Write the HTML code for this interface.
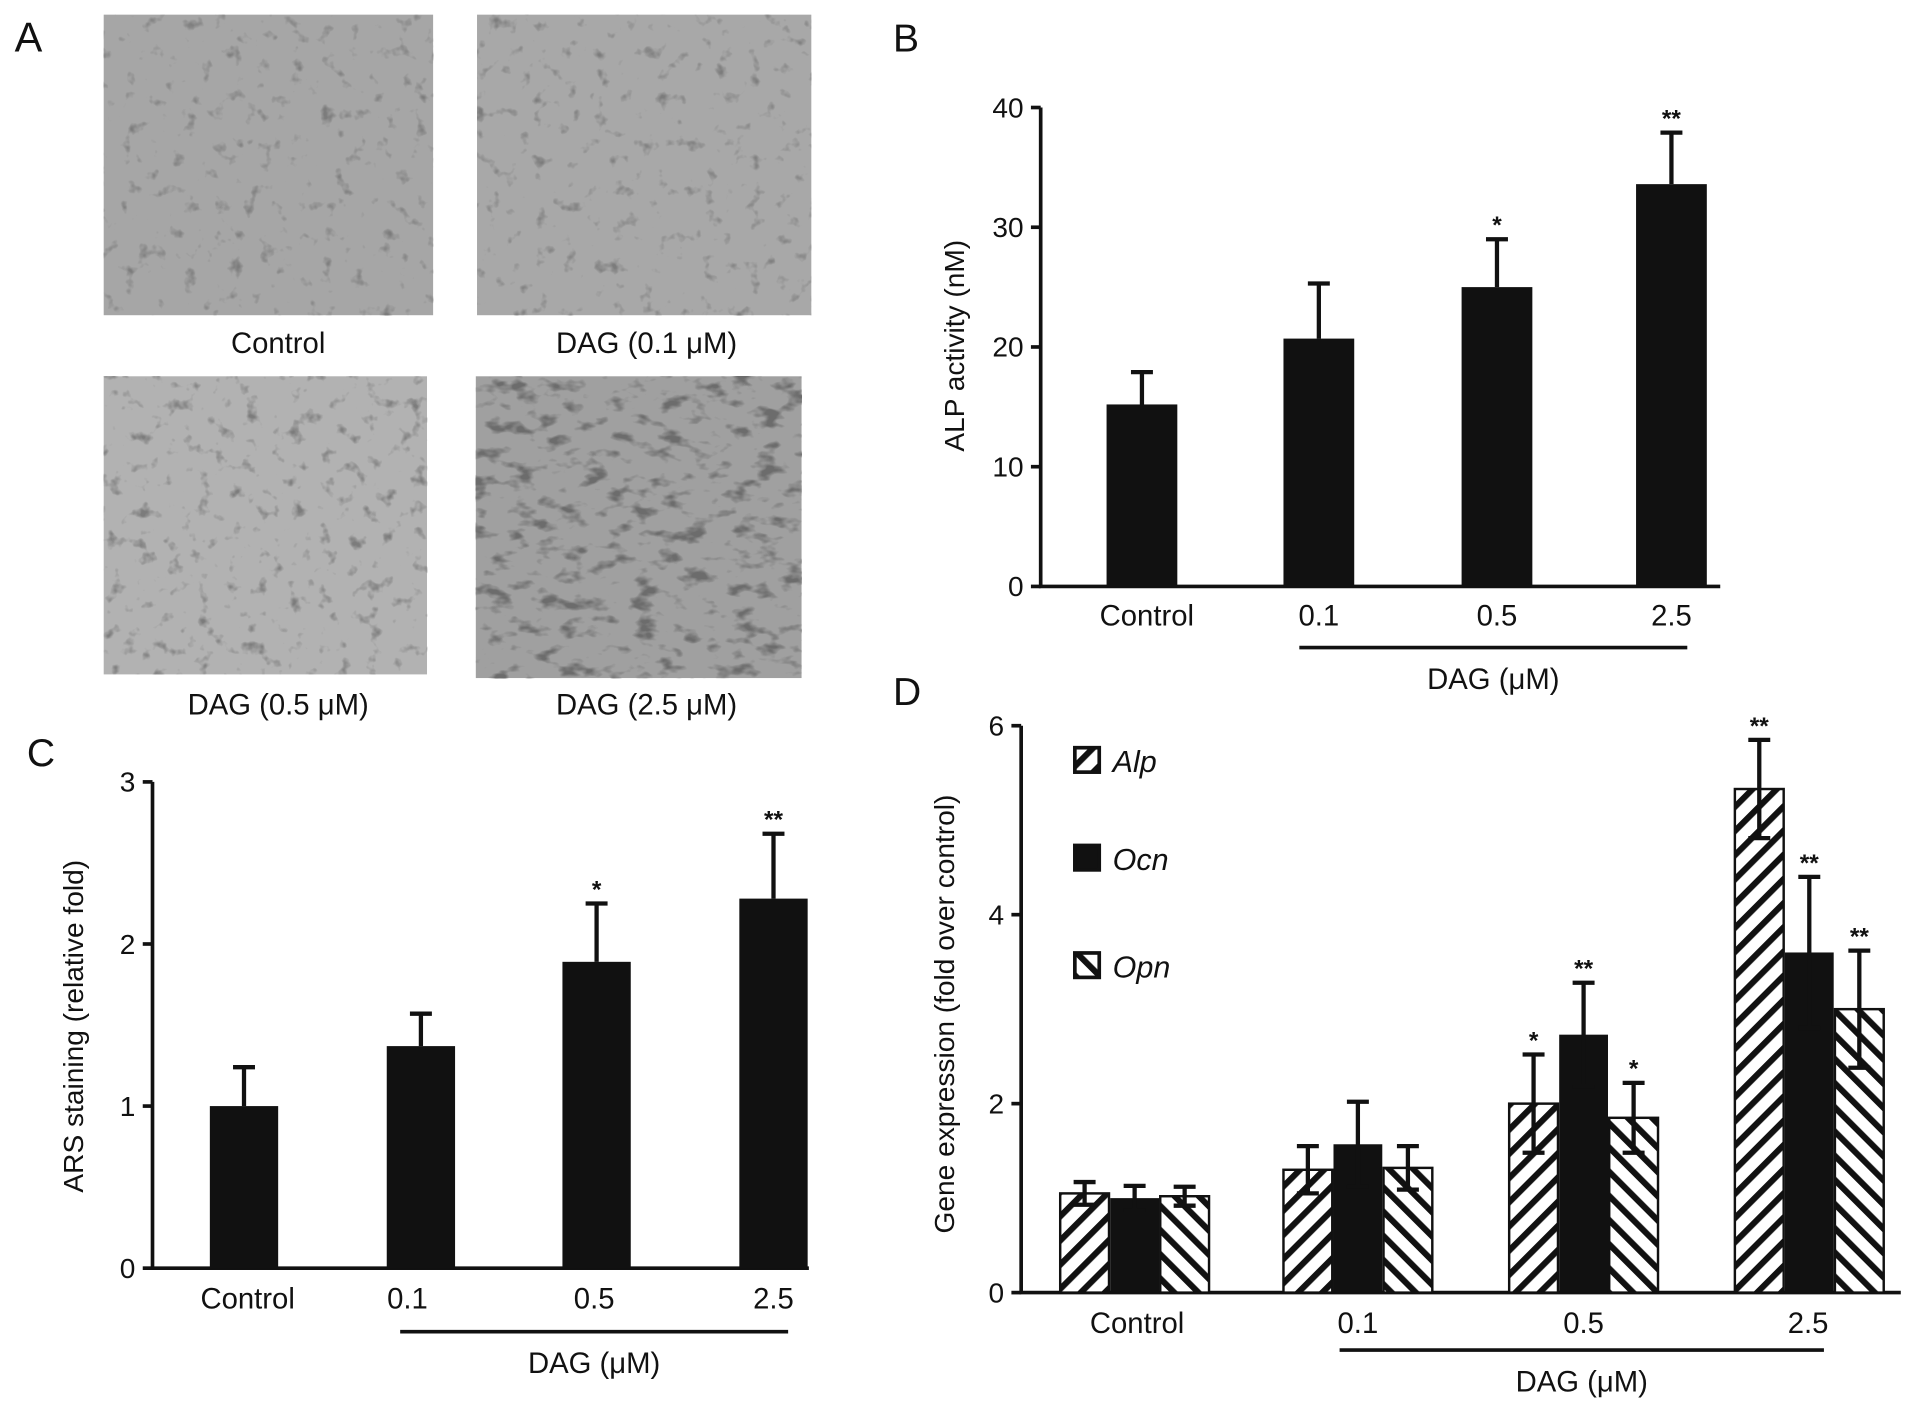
<!DOCTYPE html>
<html><head><meta charset="utf-8"><style>
html,body{margin:0;padding:0;background:#fff;width:1913px;height:1405px;overflow:hidden}
svg{display:block}
text{font-family:"Liberation Sans",Arial,sans-serif;fill:#111}
</style></head><body>
<svg id="fig" width="1913" height="1405" viewBox="0 0 1568 1150" preserveAspectRatio="none" xmlns="http://www.w3.org/2000/svg">
<defs>
<pattern id="hatchA" patternUnits="userSpaceOnUse" width="14" height="14" patternTransform="rotate(45)">
<rect width="14" height="14" fill="#fff"/><rect x="0" y="0" width="5" height="14" fill="#111"/></pattern>
<pattern id="hatchO" patternUnits="userSpaceOnUse" width="14" height="14" patternTransform="rotate(-45)">
<rect width="14" height="14" fill="#fff"/><rect x="0" y="0" width="5" height="14" fill="#111"/></pattern>
<filter id="tex1" x="0" y="0" width="100%" height="100%">
<feTurbulence type="fractalNoise" baseFrequency="0.08" numOctaves="3" seed="3"/>
<feColorMatrix type="matrix" values="0 0 0 0 0.2  0 0 0 0 0.2  0 0 0 0 0.2  4 0 0 0 -2.5"/>
</filter>
<filter id="tex2" x="0" y="0" width="100%" height="100%">
<feTurbulence type="fractalNoise" baseFrequency="0.08" numOctaves="3" seed="8"/>
<feColorMatrix type="matrix" values="0 0 0 0 0.2  0 0 0 0 0.2  0 0 0 0 0.2  4 0 0 0 -2.5"/>
</filter>
<filter id="tex3" x="0" y="0" width="100%" height="100%">
<feTurbulence type="fractalNoise" baseFrequency="0.08" numOctaves="3" seed="15"/>
<feColorMatrix type="matrix" values="0 0 0 0 0.2  0 0 0 0 0.2  0 0 0 0 0.2  4 0 0 0 -2.4"/>
</filter>
<filter id="tex4" x="0" y="0" width="100%" height="100%">
<feTurbulence type="fractalNoise" baseFrequency="0.05 0.09" numOctaves="3" seed="21"/>
<feColorMatrix type="matrix" values="0 0 0 0 0.15  0 0 0 0 0.15  0 0 0 0 0.15  4.5 0 0 0 -2.4"/>
</filter>
</defs>
<g>
<text x="12" y="42" font-size="34">A</text>
<rect x="85" y="12" width="270" height="246" fill="#a6a6a6"/>
<rect x="85" y="12" width="270" height="246" fill="#000" filter="url(#tex1)"/>
<rect x="391" y="12" width="274" height="246" fill="#a8a8a8"/>
<rect x="391" y="12" width="274" height="246" fill="#000" filter="url(#tex2)"/>
<rect x="85" y="308" width="265" height="244" fill="#b2b2b2"/>
<rect x="85" y="308" width="265" height="244" fill="#000" filter="url(#tex3)"/>
<rect x="390" y="308" width="267" height="247" fill="#a0a0a0"/>
<rect x="390" y="308" width="267" height="247" fill="#000" filter="url(#tex4)"/>
<g font-size="24" text-anchor="middle">
<text x="228" y="289">Control</text>
<text x="530" y="289">DAG (0.1 μM)</text>
<text x="228" y="585">DAG (0.5 μM)</text>
<text x="530" y="585">DAG (2.5 μM)</text>
</g></g>
<text x="732" y="42" font-size="32">B</text>
<text x="22" y="627" font-size="32">C</text>
<text x="732" y="577" font-size="32">D</text>
<g id="chartB"></g>
<g id="chartC"></g>
<g id="chartD"></g>
</svg>
<script>
const NS='http://www.w3.org/2000/svg';
// Panel B data
const bCats=['Control','0.1','0.5','2.5'];
const bVals=[15.2,20.7,25.0,33.6];
const bErr=[2.7,4.6,4.0,4.3];
const bStars=['','','*','**'];
const bTicks=[0,10,20,30,40];
// Panel C data
const cCats=['Control','0.1','0.5','2.5'];
const cVals=[1.0,1.37,1.89,2.28];
const cErr=[0.24,0.2,0.36,0.4];
const cStars=['','','*','**'];
const cTicks=[0,1,2,3];
// Panel D data
const dCats=['Control','0.1','0.5','2.5'];
const dAlp=[1.05,1.3,2.0,5.33];
const dOcn=[1.0,1.57,2.73,3.6];
const dOpn=[1.02,1.32,1.85,3.0];
const dAlpErr=[0.12,0.25,0.52,0.52];
const dOcnErr=[0.13,0.45,0.55,0.8];
const dOpnErr=[0.1,0.23,0.37,0.62];
const dAlpStars=['','','*','**'];
const dOcnStars=['','','**','**'];
const dOpnStars=['','','*','**'];
const dTicks=[0,2,4,6];
const dSeries=['Alp','Ocn','Opn'];

function el(tag,attrs,parent,txt){const e=document.createElementNS(NS,tag);for(const k in attrs)e.setAttribute(k,attrs[k]);if(txt!==undefined)e.textContent=txt;parent.appendChild(e);return e;}

function axes(g,o){
  const y=v=>o.y0-(v-o.min)/(o.max-o.min)*(o.y0-o.ytop);
  const ax=el('path',{d:`M${o.x0} ${o.ytop}V${o.y0}H${o.xend}`,stroke:'#111','stroke-width':3,fill:'none'},g);
  
  
  o.ticks.forEach(t=>{
    const tl=el('line',{x1:o.x0-8,x2:o.x0,y1:y(t),y2:y(t),stroke:'#111','stroke-width':3},g);
    
    
    const tx=el('text',{x:o.x0-14,y:y(t)+8,'font-size':23,'text-anchor':'end'},g,t);
    
    
  });
  const yt=el('text',{transform:`translate(${o.tx},${o.ty}) rotate(-90)`,'font-size':23,'text-anchor':'middle'},g,o.title);
  
  
  o.cats.forEach((c,i)=>{
    const t=el('text',{x:o.labelX[i],y:o.ly,'font-size':24,'text-anchor':'middle'},g,c);
    
    
  });
  const ul=el('line',{x1:o.ul[0],x2:o.ul[1],y1:o.uy,y2:o.uy,stroke:'#111','stroke-width':3},g);
  
  
  const dt=el('text',{x:(o.ul[0]+o.ul[1])/2,y:o.uy+34,'font-size':24,'text-anchor':'middle'},g,'DAG (μM)');
  
  
  return y;
}
function bar(g,x,w,v,e,y,fill,star,name,down){
  const r=el('rect',{x:x,y:y(v),width:w,height:y(0)-y(v),fill:fill,stroke:'#111','stroke-width':fill==='#111'?0:2},g);
  
  
  const cx=x+w/2;
  const eb=el('path',{d:`M${cx} ${down?y(v-e):y(v)}V${y(v+e)}M${cx-9} ${y(v+e)}H${cx+9}`+(down?`M${cx-9} ${y(v-e)}H${cx+9}`:''),stroke:'#111','stroke-width':3.5,fill:'none'},g);
  
  
  if(star){const s=el('text',{x:cx,y:y(v+e)-5,'font-size':20,'font-weight':'bold','text-anchor':'middle'},g,star);
    
    }
}
// B
(function(){const g=document.getElementById('chartB');
 const cx=[936,1081,1227,1370];
 const y=axes(g,{x0:853,y0:480,ytop:88,xend:1410,min:0,max:40,ticks:bTicks,title:'ALP activity (nM)',tx:790,ty:283,cats:bCats,labelX:[940,1081,1227,1370],ly:512,ul:[1065,1383],uy:530});
 bCats.forEach((c,i)=>bar(g,cx[i]-29,58,bVals[i],bErr[i],y,'#111',bStars[i],'bar-'+c,false));})();
// C
(function(){const g=document.getElementById('chartC');
 const cx=[200,345,489,634];
 const y=axes(g,{x0:125,y0:1038,ytop:640,xend:663,min:0,max:3,ticks:cTicks,title:'ARS staining (relative fold)',tx:68,ty:840,cats:cCats,labelX:[203,334,487,634],ly:1071,ul:[328,646],uy:1090});
 cCats.forEach((c,i)=>bar(g,cx[i]-28,56,cVals[i],cErr[i],y,'#111',cStars[i],'bar-'+c,false));})();
// D
(function(){const g=document.getElementById('chartD');
 const gx=[869,1052,1237,1422];
 const y=axes(g,{x0:837,y0:1058,ytop:594,xend:1558,min:0,max:6,ticks:dTicks,title:'Gene expression (fold over control)',tx:782,ty:830,cats:dCats,labelX:[932,1113,1298,1482],ly:1091,ul:[1098,1495],uy:1105});
 const fills=['url(#hatchA)','#111','url(#hatchO)'];
 const vals=[dAlp,dOcn,dOpn],errs=[dAlpErr,dOcnErr,dOpnErr],stars=[dAlpStars,dOcnStars,dOpnStars];
 dCats.forEach((c,i)=>{for(let s=0;s<3;s++)bar(g,gx[i]+s*41,40,vals[s][i],errs[s][i],y,fills[s],stars[s][i],'bar-'+dSeries[s]+'-'+c,true);});
 const ly=[612,692,780];
 dSeries.forEach((s,k)=>{
   const b=el('rect',{x:881,y:ly[k],width:20,height:20,fill:fills[k],stroke:'#111','stroke-width':3},g);
   
   
   const t=el('text',{x:912,y:ly[k]+20,'font-size':25,'font-style':'italic'},g,s);
   
   
 });})();
</script>
</body></html>
